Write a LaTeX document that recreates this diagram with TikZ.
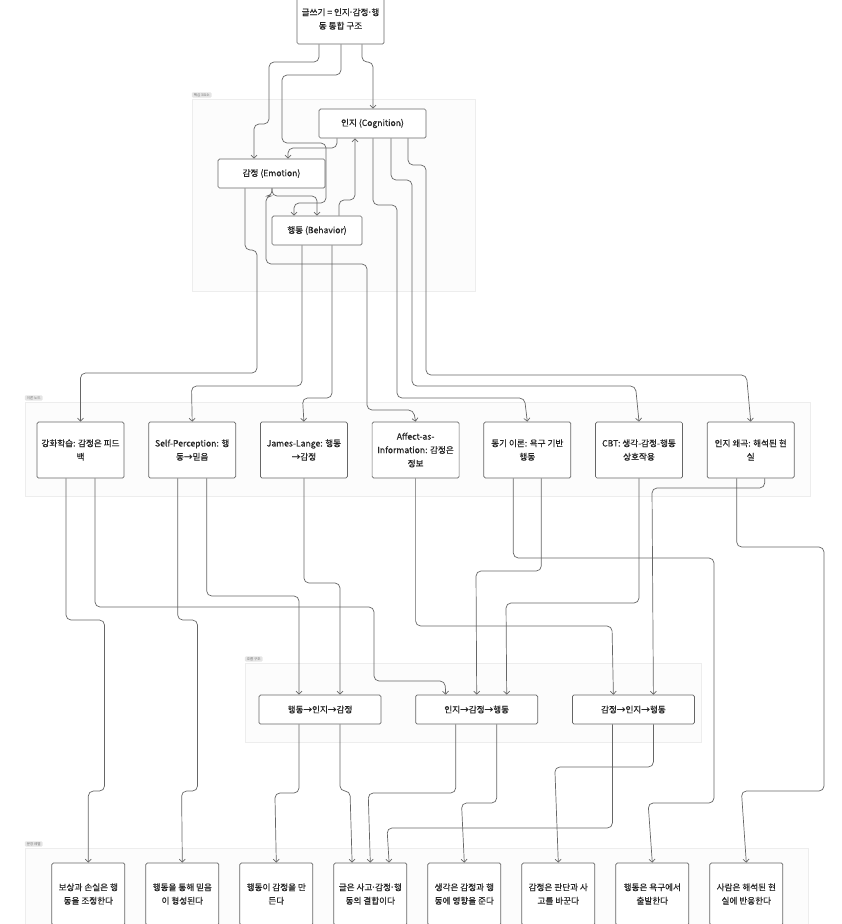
\documentclass[tikz,border=0pt]{standalone}
\usepackage{fontspec}
\setmainfont{Noto Sans CJK KR}[BoldFont=Noto Sans CJK KR, BoldFeatures={FakeBold=0.5}]
\newfontfamily\dotfont{Liberation Sans}
\newcommand{\md}{{\dotfont ·}}
\usetikzlibrary{arrows.meta, positioning}

\begin{document}
\begin{tikzpicture}[x=1pt, y=-1pt, >={Straight Barb[length=3pt,width=6pt]},
    box/.style={draw=black!60, fill=white, rounded corners=1.5pt, line width=0.7pt,
                text=black!85, align=center, inner sep=2pt,
                font=\fontsize{8.6}{13.5}\selectfont\bfseries},
    core/.style={box, minimum height=29pt},
    theory/.style={box, minimum width=87pt, minimum height=56pt},
    flow/.style={box, minimum width=122pt, minimum height=29pt},
    sentence/.style={box, minimum width=73pt, minimum height=62pt},
    group/.style={draw=black!7, fill=black!1, line width=0.6pt},
    tag/.style={fill=black!10, rounded corners=1pt, text=black!55, anchor=south west,
                inner xsep=2pt, inner ysep=1pt, font=\fontsize{3.5}{4}\selectfont},
    link/.style={->, draw=black!60, line width=0.7pt, rounded corners=5pt}]
  \useasboundingbox (0,0) rectangle (842,924);
  \clip (0,0) rectangle (842,924);

  \node[group, minimum width=283pt, minimum height=192pt] (gcore) at (333.5,195) {};
  \node[tag] at ([yshift=1pt]gcore.north west) {핵심 3요소};
  \node[group, minimum width=785pt, minimum height=94pt] (gtheory) at (417.5,449) {};
  \node[tag] at ([yshift=1pt]gtheory.north west) {이론 노드};
  \node[group, minimum width=456pt, minimum height=79pt] (gflow) at (473,702.5) {};
  \node[tag] at ([yshift=1pt]gflow.north west) {흐름 구조};
  \node[group, minimum width=783pt, minimum height=92pt] (gsent) at (416.5,894) {};
  \node[tag] at ([yshift=1pt]gsent.north west) {문장 레벨};

  \node[box, minimum width=87pt, minimum height=50pt] (root) at (340.5,19)
    {글쓰기 = 인지\md 감정\md 행\\동 통합 구조};

  \node[core, minimum width=107pt] (cog) at (372.5,123.5) {인지 (Cognition)};
  \node[core, minimum width=107pt] (emo) at (271.5,173.5) {감정 (Emotion)};
  \node[core, minimum width=90pt] (beh) at (317,230.5) {행동 (Behavior)};

  \node[theory] (rl) at (80.5,450) {강화학습: 감정은 피드\\백};
  \node[theory, right=24pt of rl] (sp) {Self-Perception: 행\\동→믿음};
  \node[theory, right=24pt of sp] (jl) {James-Lange: 행동\\→감정};
  \node[theory, right=24pt of jl] (aai) {Affect-as-\\Information: 감정은\\정보};
  \node[theory, right=24pt of aai] (mot) {동기 이론: 욕구 기반\\행동};
  \node[theory, right=24pt of mot] (cbt) {CBT: 생각-감정-행동\\상호작용};
  \node[theory, right=24pt of cbt] (dist) {인지 왜곡: 해석된 현\\실};

  \node[flow] (bce) at (320,709.5) {행동→인지→감정};
  \node[flow, right=34pt of bce] (ceb) {인지→감정→행동};
  \node[flow, right=34pt of ceb] (ecb) {감정→인지→행동};

  \node[sentence] (reward) at (88.3,894) {보상과 손실은 행\\동을 조정한다};
  \node[sentence, right=20.3pt of reward] (belief) {행동을 통해 믿음\\이 형성된다};
  \node[sentence, right=20.3pt of belief] (feel) {행동이 감정을 만\\든다};
  \node[sentence, right=20.3pt of feel] (blend) {글은 사고\md 감정\md 행\\동의 결합이다};
  \node[sentence, right=20.3pt of blend] (think) {생각은 감정과 행\\동에 영향을 준다};
  \node[sentence, right=20.3pt of think] (judge) {감정은 판단과 사\\고를 바꾼다};
  \node[sentence, right=20.3pt of judge] (need) {행동은 욕구에서\\출발한다};
  \node[sentence, right=20.3pt of need] (real) {사람은 해석된 현\\실에 반응한다};

  \draw[link] ([xshift=-21.5pt]root.south) |- (269,62) |- (254,124) -- ([xshift=-17.5pt]emo.north);
  \draw[link] ([xshift=0.5pt]root.south) |- (282,75) |- (326,143) |- (294,203) -- ([xshift=-23pt]beh.north);
  \draw[link] ([xshift=21.5pt]root.south) |- (373,62) -- ([xshift=0.5pt]cog.north);
  \draw[link] ([xshift=-35.5pt]cog.south) |- (288,148) -- ([xshift=16.5pt]emo.north);
  \draw[link] ([xshift=22pt]beh.north) |- (355,200) -- ([xshift=-17.5pt]cog.south);
  \draw[link] ([xshift=0.5pt]emo.south) |- (317,196) -- (beh.north);
  \draw[link] ([xshift=0.5pt]emo.south) |- (266,196) |- (367,264) |- (413.5,410) -- (aai.north);
  \draw[link] ([xshift=-26.5pt]emo.south) |- (257,250) |- (80.5,373) -- (rl.north);
  \draw[link] ([xshift=-15pt]beh.south) |- (191.5,386) -- (sp.north);
  \draw[link] ([xshift=15pt]beh.south) |- (302.5,398) -- (jl.north);
  \draw[link] ([xshift=0.5pt]cog.south) |- (397,205) |- (524.5,398) -- (mot.north);
  \draw[link] ([xshift=18.5pt]cog.south) |- (412,180) |- (635.5,386) -- (cbt.north);
  \draw[link] ([xshift=35.5pt]cog.south) |- (426,165) |- (746.5,375) -- (dist.north);

  \draw[link] ([xshift=-14.5pt]rl.south) |- (104.5,620) |- (88.3,791) -- (reward.north);
  \draw[link] ([xshift=14.5pt]rl.south) |- (374,607) |- (445,681) -- ([xshift=-31pt]ceb.north);
  \draw[link] ([xshift=-14.5pt]sp.south) |- (197.5,620) |- (181.6,791) -- (belief.north);
  \draw[link] ([xshift=14.5pt]sp.south) |- (299,596) -- ([xshift=-21pt]bce.north);
  \draw[link] (jl.south) |- (340,583) -- ([xshift=20pt]bce.north);
  \draw[link] (aai.south) |- (612,626) -- ([xshift=-20pt]ecb.north);
  \draw[link] ([xshift=-14pt]mot.south) |- (714,558) |- (648.1,803) -- (need.north);
  \draw[link] ([xshift=14pt]mot.south) |- (476,571) -- (ceb.north);
  \draw[link] (cbt.south) |- (506,603) -- ([xshift=30pt]ceb.north);
  \draw[link] ([xshift=14pt]dist.south) |- (652,488) -- ([xshift=20pt]ecb.north);
  \draw[link] ([xshift=-14pt]dist.south) |- (824,547) |- (741.4,791) -- (real.north);

  \draw[link] ([xshift=-21pt]bce.south) |- (274.9,793) -- (feel.north);
  \draw[link] ([xshift=20pt]bce.south) |- (350,791) -- ([xshift=-18.2pt]blend.north);
  \draw[link] ([xshift=-21pt]ceb.south) |- (368.2,793) -- (blend.north);
  \draw[link] ([xshift=20pt]ceb.south) |- (461.5,803) -- (think.north);
  \draw[link] ([xshift=-21pt]ecb.south) |- (387,828) -- ([xshift=18.8pt]blend.north);
  \draw[link] ([xshift=20pt]ecb.south) |- (554.8,767) -- (judge.north);
\end{tikzpicture}
\end{document}
